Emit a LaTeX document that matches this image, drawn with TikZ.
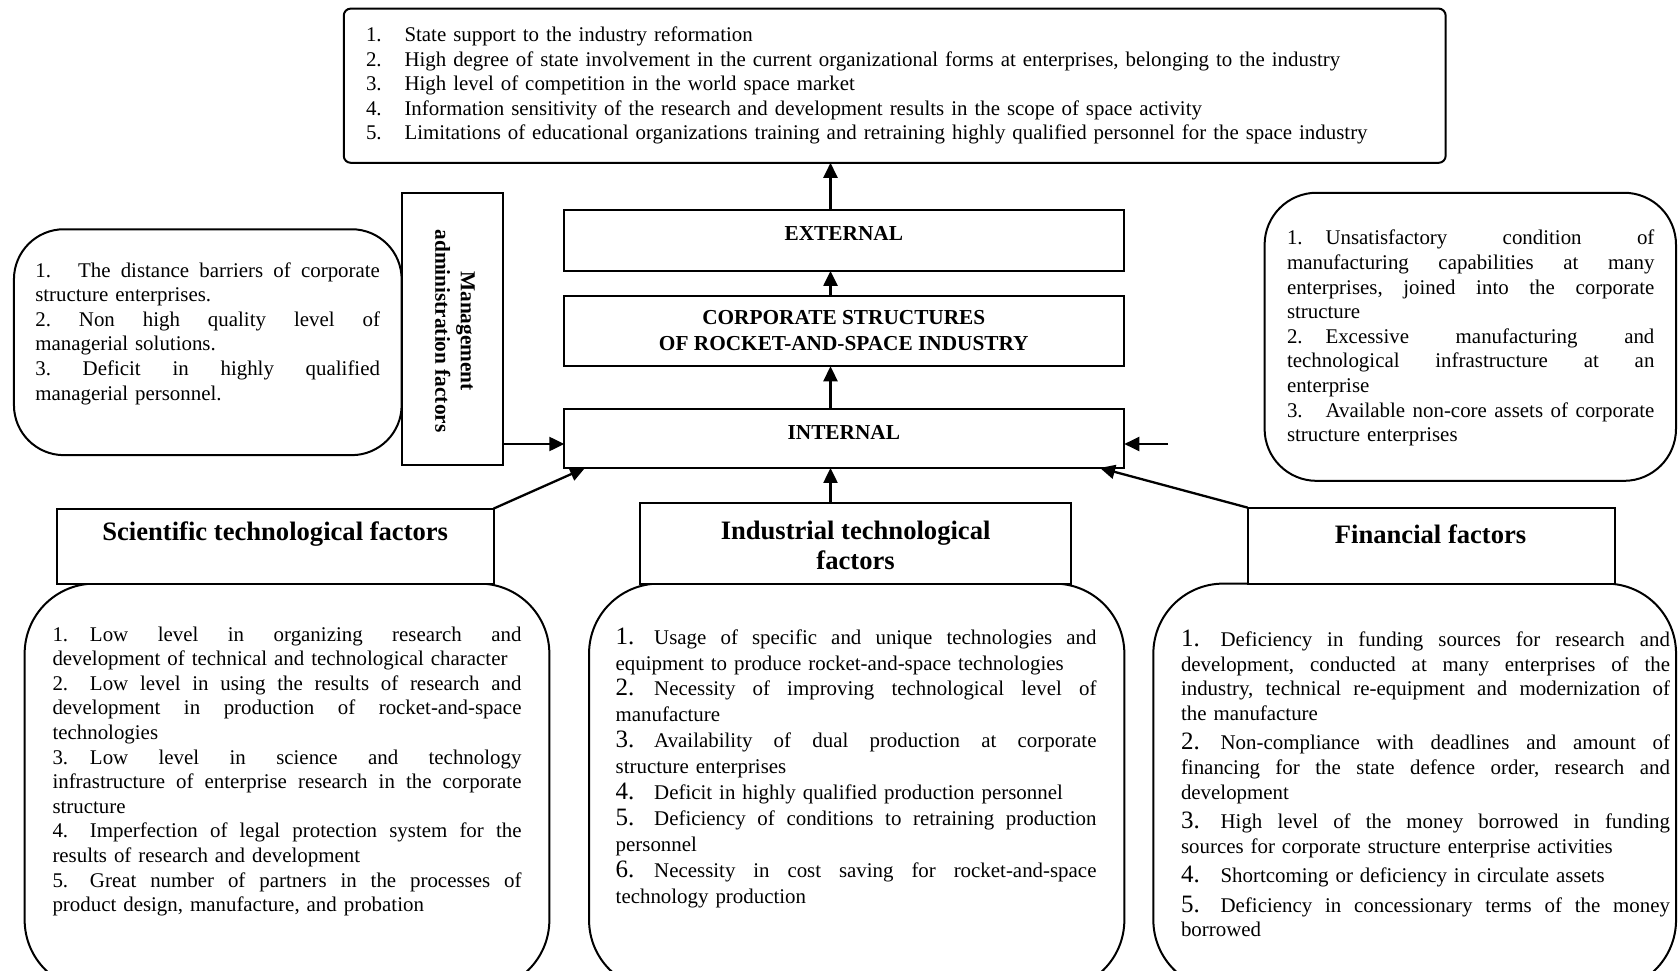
\documentclass[tikz,border=0pt]{standalone}
\usepackage{fontspec}
\setmainfont{Liberation Serif}
\usetikzlibrary{arrows.meta,calc}
\setlength{\parindent}{0pt}
\setlength{\parskip}{0pt}
\def\jwv{400pt}
\ExplSyntaxOn
\tl_new:N \l__jl_tl
\NewDocumentCommand{\JL}{m}
  {
    \tl_set:Nn \l__jl_tl {#1}
    \tl_replace_all:Nnn \l__jl_tl {~} {\hfill}
    \leavevmode\hbox_to_wd:nn {\jwv} {\strut \tl_use:N \l__jl_tl}
    \par
  }
\ExplSyntaxOff
\newcommand{\LL}[1]{\mbox{\strut #1}\par}
\newcommand{\NB}[2][38.5pt]{\makebox[#1][l]{#2}}
\newcommand{\bignum}{\fontsize{25}{25.9}\selectfont}
\begin{document}
\begin{tikzpicture}[x=1pt,y=-1pt,
  box/.style={draw,line width=2pt,inner sep=0pt,outer sep=0pt},
  arr/.style={line width=2.3pt,-{Triangle[length=15pt,width=14pt]}},
  body/.style={anchor=north west,inner sep=0pt,outer sep=0pt,font=\fontsize{20.9}{24.6}\selectfont},
  lab/.style={inner sep=0pt,font=\fontsize{21.3}{25.7}\selectfont\bfseries,align=center},
  ttl/.style={inner sep=0pt,font=\fontsize{26.6}{30}\selectfont\bfseries,align=center}]
\path[use as bounding box,fill=white] (0,0) rectangle (1679,971);
\clip (0,0) rectangle (1679,971);

% boxes
\node[box,rounded corners=7pt,minimum width=1101.9pt,minimum height=154.2pt] (top) at (894.7,85.7) {};
\node[box,minimum width=560pt,minimum height=61pt] (ext) at (844.3,240.4) {};
\node[box,minimum width=560pt,minimum height=70.7pt] (corp) at (844.3,330.9) {};
\node[box,minimum width=560pt,minimum height=58.9pt] (int) at (844.3,438.5) {};
\node[box,minimum width=101.7pt,minimum height=272pt] (mgmt) at (452.5,328.7) {};
\node[box,rounded corners=50pt,minimum width=387.7pt,minimum height=225.9pt] (lround) at (207.8,342.2) {};
\node[box,rounded corners=52pt,minimum width=411.4pt,minimum height=288.1pt] (rround) at (1470.3,336.8) {};
\node[box,rounded corners=70pt,minimum width=524.7pt,minimum height=406.4pt] (sciR) at (287,786.8) {};
\node[box,rounded corners=70pt,minimum width=535.3pt,minimum height=406.4pt] (indR) at (856.7,786.8) {};
\node[box,rounded corners=70pt,minimum width=522.7pt,minimum height=406.4pt] (finR) at (1414.7,786.8) {};
\node[box,fill=white,minimum width=436.8pt,minimum height=75pt] (scit) at (275.2,546.1) {};
\node[box,fill=white,minimum width=430.5pt,minimum height=80.3pt] (indt) at (855.6,543.5) {};
\node[box,fill=white,minimum width=367.3pt,minimum height=76pt] (fint) at (1431.2,545.6) {};

% labels
\node[lab,anchor=base] (extl) at (843.8,240.4) {EXTERNAL};
\node[lab] (corpl) at (843.8,330.9) {CORPORATE STRUCTURES\\OF ROCKET-AND-SPACE INDUSTRY};
\node[lab,anchor=base] (intl) at (843.8,439.6) {INTERNAL};
\node[lab,rotate=-90] (mgmtl) at (455,331) {Management\\administration factors};
\node[ttl,anchor=base] (scitl) at (275.2,540) {Scientific technological factors};
\node[ttl] (indtl) at (855.6,545) {Industrial technological\\factors};
\node[ttl,anchor=base] (fintl) at (1430.6,543.4) {Financial factors};

% texts
\node[body,text width=1060pt] (topt) at (366,24.3) {%
\LL{\NB{1.}State support to the industry reformation}
\LL{\NB{2.}High degree of state involvement in the current organizational forms at enterprises, belonging to the industry}
\LL{\NB{3.}High level of competition in the world space market}
\LL{\NB{4.}Information sensitivity of the research and development results in the scope of space activity}
\LL{\NB{5.}Limitations of educational organizations training and retraining highly qualified personnel for the space industry}};

\node[body,text width=344.7pt] (lt) at (35.3,259.9) {\def\jwv{344.7pt}%
\JL{\NB[42.8pt]{1.}The distance barriers of corporate}
\LL{structure enterprises.}
\JL{2. Non high quality level of}
\LL{managerial solutions.}
\JL{3. Deficit in highly qualified}
\LL{managerial personnel.}};

\node[body,text width=367.4pt] (rt) at (1287,227.7) {\def\jwv{367.4pt}%
\JL{\NB{1.}Unsatisfactory condition of}
\JL{manufacturing capabilities at many}
\JL{enterprises, joined into the corporate}
\LL{structure}
\JL{\NB{2.}Excessive manufacturing and}
\JL{technological infrastructure at an}
\LL{enterprise}
\JL{\NB{3.}Available non-core assets of corporate}
\LL{structure enterprises}};

\node[body,text width=469pt] (scitx) at (52.5,623.9) {\def\jwv{469pt}%
\JL{\NB[37.5pt]{1.}Low level in organizing research and}
\LL{development of technical and technological character}
\JL{\NB[37.5pt]{2.}Low level in using the results of research and}
\JL{development in production of rocket-and-space}
\LL{technologies}
\JL{\NB[37.5pt]{3.}Low level in science and technology}
\JL{infrastructure of enterprise research in the corporate}
\LL{structure}
\JL{\NB[37.5pt]{4.}Imperfection of legal protection system for the}
\LL{results of research and development}
\JL{\NB[37.5pt]{5.}Great number of partners in the processes of}
\LL{product design, manufacture, and probation}};

\node[body,text width=480.8pt,font=\fontsize{20.9}{25.9}\selectfont] (indtx) at (615.7,626) {\def\jwv{480.8pt}%
\JL{\NB{\bignum 1.}Usage of specific and unique technologies and}
\LL{equipment to produce rocket-and-space technologies}
\JL{\NB{\bignum 2.}Necessity of improving technological level of}
\LL{manufacture}
\JL{\NB{\bignum 3.}Availability of dual production at corporate}
\LL{structure enterprises}
\LL{\NB{\bignum 4.}Deficit in highly qualified production personnel}
\JL{\NB{\bignum 5.}Deficiency of conditions to retraining production}
\LL{personnel}
\JL{\NB{\bignum 6.}Necessity in cost saving for rocket-and-space}
\LL{technology production}};

\node[body,text width=489pt] (fintx) at (1181,629.3) {\def\jwv{489pt}%
\JL{\NB[39.6pt]{\bignum 1.}Deficiency in funding sources for research and}
\JL{development, conducted at many enterprises of the}
\JL{industry, technical re-equipment and modernization of}
\LL{the manufacture}
\vspace{4.9pt}
\JL{\NB[39.6pt]{\bignum 2.}Non-compliance with deadlines and amount of}
\JL{financing for the state defence order, research and}
\LL{development}
\vspace{4.9pt}
\JL{\NB[39.6pt]{\bignum 3.}High level of the money borrowed in funding}
\LL{sources for corporate structure enterprise activities}
\vspace{4.9pt}
\LL{\NB[39.6pt]{\bignum 4.}Shortcoming or deficiency in circulate assets}
\vspace{4.9pt}
\JL{\NB[39.6pt]{\bignum 5.}Deficiency in concessionary terms of the money}
\LL{borrowed}};

% connectors
\coordinate (ax) at (830.5,0);
\coordinate (ay) at (0,444);
\coordinate (rin) at (1168,444);
\draw[arr] (ext.north -| ax) -- (top.south -| ax);
\draw[arr] (corp.north -| ax) -- (ext.south -| ax);
\draw[arr] (int.north -| ax) -- (corp.south -| ax);
\draw[arr] (indt.north -| ax) -- (int.south -| ax);
\draw[arr] (mgmt.east |- ay) -- (int.west |- ay);
\draw[arr] (rin) -- (int.east |- rin);
\draw[arr] (scit.north east) -- ($(int.south west)+(20.7,0)$);
\draw[arr] (fint.north west) -- ($(int.south east)+(-24.3,0)$);
\end{tikzpicture}
\end{document}
